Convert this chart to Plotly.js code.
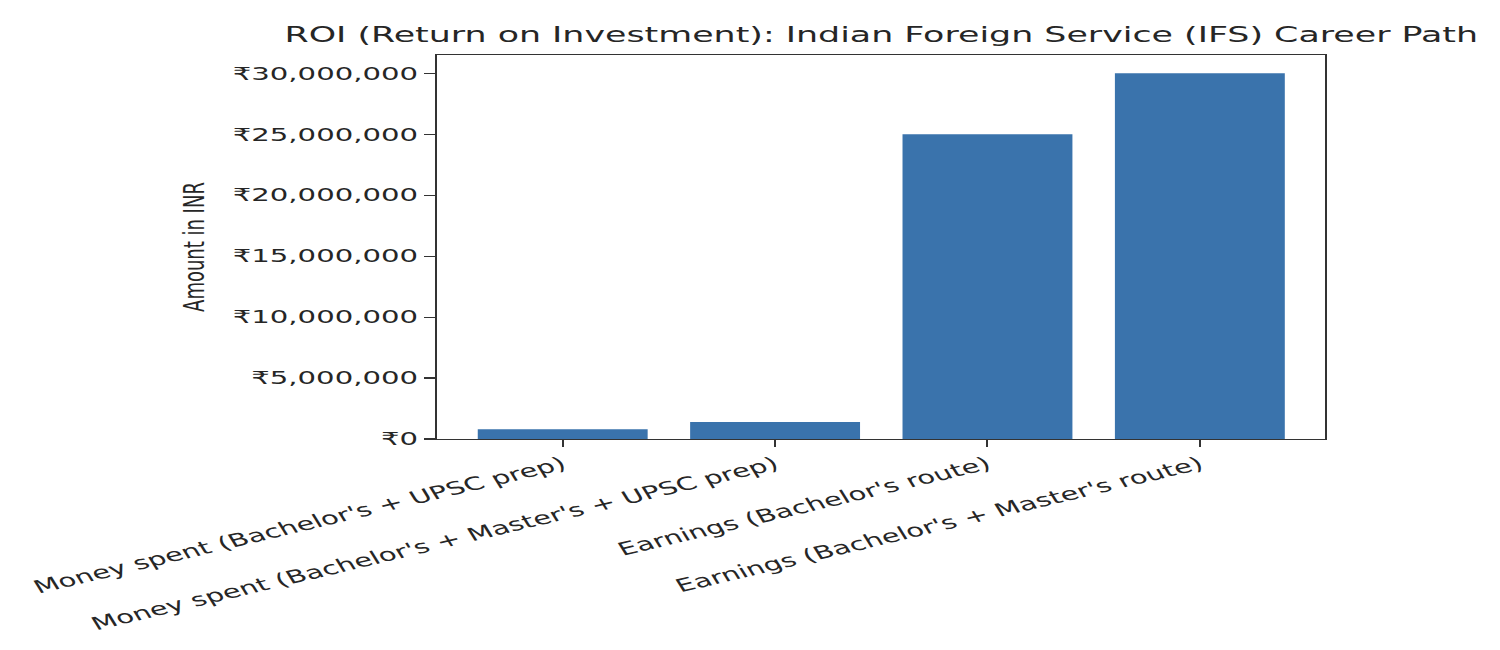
<!DOCTYPE html>
<html>
<head>
<meta charset="utf-8">
<script src="https://cdn.plot.ly/plotly-3.0.1.min.js"></script>
<style>
  html, body { margin: 0; padding: 0; background: #fff; overflow: hidden; }
  #wrap { width: 1500px; height: 650px; overflow: hidden; }
  #chart { width: 926px; height: 650px; transform: scaleX(1.62); transform-origin: 0 0; }
</style>
</head>
<body>
<div id="wrap"><div id="chart"></div></div>
<script>
const categories = [
  "Money spent (Bachelor's + UPSC prep)",
  "Money spent (Bachelor's + Master's + UPSC prep)",
  "Earnings (Bachelor's route)",
  "Earnings (Bachelor's + Master's route)"
];
const amounts = [800000, 1400000, 25000000, 30000000];
const yTickVals = [0, 5000000, 10000000, 15000000, 20000000, 25000000, 30000000];
const yTickText = ["₹0", "₹5,000,000", "₹10,000,000", "₹15,000,000", "₹20,000,000", "₹25,000,000", "₹30,000,000"];

const FONT = "DejaVu Sans, sans-serif";
const TXT = "#262626";

const trace = {
  type: "bar",
  x: [0, 1, 2, 3],
  y: amounts,
  width: 0.8,
  marker: { color: "#3a73ac", line: { width: 0 } },
  hoverinfo: "skip"
};

const layout = {
  width: 926,
  height: 650,
  margin: { l: 270, r: 108, t: 55, b: 211 },
  paper_bgcolor: "#ffffff",
  plot_bgcolor: "#ffffff",
  showlegend: false,
  font: { family: FONT, color: TXT, size: 18 },
  title: {
    text: "ROI (Return on Investment): Indian Foreign Service (IFS) Career Path",
    font: { family: FONT, size: 21.5, color: TXT },
    xref: "paper", x: 0.5, xanchor: "center",
    yref: "container", y: 1 - 34 / 650, yanchor: "middle"
  },
  xaxis: {
    range: [-0.59, 3.59],
    tickmode: "array",
    tickvals: [0, 1, 2, 3],
    ticktext: categories,
    tickangle: -21,
    ticks: "outside", ticklen: 7, tickwidth: 1.2, tickcolor: "#333",
    showline: true, linecolor: "#333", linewidth: 1.3, mirror: true,
    showgrid: false, zeroline: false,
    tickfont: { family: FONT, size: 18, color: TXT }
  },
  yaxis: {
    range: [0, 31500000],
    tickmode: "array",
    tickvals: yTickVals,
    ticktext: yTickText,
    ticks: "outside", ticklen: 7, tickwidth: 1.2, tickcolor: "#333",
    showline: true, linecolor: "#333", linewidth: 1.3, mirror: true,
    showgrid: false, zeroline: false,
    tickfont: { family: FONT, size: 18, color: TXT },
    title: { text: "Amount in INR", font: { family: FONT, size: 18, color: TXT }, standoff: 12 }
  }
};

Plotly.newPlot("chart", [trace], layout, { displayModeBar: false, staticPlot: true });
</script>
</body>
</html>
